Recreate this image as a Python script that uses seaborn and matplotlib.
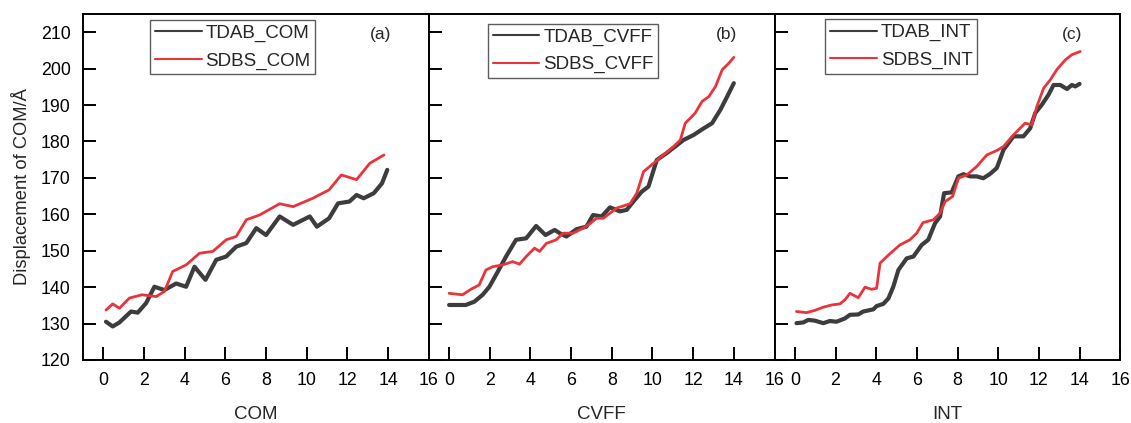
import numpy as np
import pandas as pd
import matplotlib
matplotlib.use("Agg")
import matplotlib.pyplot as plt
import seaborn as sns

# ---------------- data ----------------
t_tdab_com = [0.13, 0.46, 0.79, 1.36, 1.69, 2.1, 2.51, 3.0, 3.58, 4.07, 4.48, 5.02, 5.55, 6.04,
              6.53, 7.03, 7.52, 8.0, 8.67, 9.33, 10.15, 10.5, 11.1, 11.54, 12.1, 12.45, 12.8,
              13.3, 13.7, 13.96]
v_tdab_com = [130.5, 129.2, 130.3, 133.3, 133.0, 135.6, 140.1, 139.2, 141.0, 140.1, 145.6, 142.0,
              147.5, 148.4, 151.1, 152.1, 156.2, 154.3, 159.4, 157.1, 159.4, 156.6, 158.9, 163.0,
              163.5, 165.3, 164.4, 165.8, 168.5, 172.2]
t_sdbs_com = [0.13, 0.46, 0.79, 1.28, 1.9, 2.6, 3.0, 3.41, 4.07, 4.73, 5.38, 6.04, 6.53, 7.03,
              7.68, 8.67, 9.33, 10.3, 11.1, 11.7, 12.45, 13.1, 13.8]
v_sdbs_com = [133.7, 135.4, 134.2, 137.0, 137.9, 137.4, 138.8, 144.3, 146.1, 149.3, 149.8, 153.0,
              153.9, 158.5, 159.8, 162.9, 162.1, 164.4, 166.7, 170.8, 169.5, 174.0, 176.3]

t_tdab_cvff = [0.0, 0.82, 1.24, 1.65, 1.98, 2.31, 2.8, 3.29, 3.79, 4.28, 4.74, 5.19, 5.44, 5.77,
               6.26, 6.75, 7.08, 7.5, 7.91, 8.4, 8.73, 9.06, 9.47, 9.8, 10.21, 10.7, 11.53,
               12.03, 12.52, 12.93, 13.34, 13.67, 14.0]
v_tdab_cvff = [135.1, 135.1, 136.0, 137.9, 140.1, 143.4, 148.4, 153.0, 153.4, 156.8, 154.3, 155.7,
               154.8, 153.9, 155.9, 156.6, 159.8, 159.4, 161.9, 160.8, 161.2, 163.5, 166.2, 167.6,
               174.9, 176.8, 180.4, 181.8, 183.6, 185.0, 188.7, 192.3, 196.0]
t_sdbs_cvff = [0.0, 0.66, 1.07, 1.48, 1.81, 2.14, 2.64, 3.13, 3.46, 3.79, 4.2, 4.45, 4.78, 5.27,
               5.6, 6.1, 6.59, 6.92, 7.25, 7.58, 7.91, 8.24, 8.9, 9.23, 9.56, 10.05, 10.54,
               11.04, 11.37, 11.61, 11.86, 12.1, 12.44, 12.77, 13.1, 13.43, 13.76, 14.0]
v_sdbs_cvff = [138.3, 137.9, 139.4, 140.6, 144.7, 145.6, 146.1, 147.0, 146.3, 148.4, 150.7, 149.8,
               152.0, 153.0, 154.8, 154.8, 156.2, 157.4, 158.9, 158.9, 160.3, 161.7, 162.9, 165.8,
               171.7, 174.0, 176.3, 178.6, 180.4, 185.0, 186.4, 187.8, 191.0, 192.3, 195.1, 199.7,
               201.5, 203.1]

t_tdab_int = [0.08, 0.41, 0.66, 0.98, 1.4, 1.72, 2.05, 2.46, 2.71, 3.12, 3.36, 3.86, 4.02, 4.35,
              4.6, 4.84, 5.09, 5.5, 5.83, 6.24, 6.56, 6.89, 7.14, 7.34, 7.71, 8.04, 8.29, 8.62,
              8.94, 9.27, 9.6, 9.93, 10.26, 10.75, 11.24, 11.57, 11.82, 12.15, 12.47, 12.72,
              13.05, 13.38, 13.62, 13.79, 14.0]
v_tdab_int = [130.1, 130.3, 131.0, 130.8, 130.1, 130.7, 130.5, 131.4, 132.4, 132.5, 133.3, 133.9,
              134.8, 135.4, 136.9, 140.1, 144.7, 147.9, 148.4, 151.6, 153.0, 157.5, 159.4, 165.8,
              166.0, 170.4, 171.0, 170.4, 170.4, 169.9, 171.1, 172.7, 177.7, 181.4, 181.4, 183.6,
              187.8, 190.1, 192.8, 195.5, 195.5, 194.4, 195.5, 195.1, 195.8]
t_sdbs_int = [0.08, 0.57, 0.98, 1.4, 1.81, 2.22, 2.46, 2.71, 3.12, 3.45, 3.77, 4.02, 4.19, 4.6,
              5.17, 5.66, 5.99, 6.3, 6.81, 7.14, 7.39, 7.76, 8.04, 8.45, 8.94, 9.44, 9.93, 10.26,
              10.75, 11.32, 11.65, 11.9, 12.23, 12.56, 12.88, 13.3, 13.62, 14.03]
v_sdbs_int = [133.3, 133.0, 133.6, 134.5, 135.1, 135.4, 136.5, 138.3, 137.1, 140.0, 139.4, 139.7,
              146.6, 148.8, 151.6, 153.0, 154.8, 157.7, 158.5, 160.3, 163.5, 164.9, 169.9, 170.8,
              173.1, 176.3, 177.5, 178.6, 181.8, 185.0, 184.6, 189.6, 194.6, 196.9, 199.7, 202.4,
              203.8, 204.7]

panel_names = ["COM", "CVFF", "INT"]
panel_tags = ["(a)", "(b)", "(c)"]
x_ticks = [0, 2, 4, 6, 8, 10, 12, 14, 16]
y_ticks = [120, 130, 140, 150, 160, 170, 180, 190, 200, 210]
y_label = "Displacement of COM/Å"

panels = [
    (t_tdab_com, v_tdab_com, t_sdbs_com, v_sdbs_com),
    (t_tdab_cvff, v_tdab_cvff, t_sdbs_cvff, v_sdbs_cvff),
    (t_tdab_int, v_tdab_int, t_sdbs_int, v_sdbs_int),
]

# ---------------- styling ----------------
sns.set_theme(style="ticks")
plt.rcParams["font.family"] = ["Liberation Sans", "DejaVu Sans"]
plt.rcParams["axes.linewidth"] = 1.4

BLACK = "#3d3d3d"
RED = "#e8343a"

fig, axes = plt.subplots(1, 3, figsize=(11.31, 4.23), dpi=100, sharey=True)
fig.subplots_adjust(left=0.0734, right=0.9905, bottom=0.149, top=0.967, wspace=0)

legend_pos = [(0.194, 0.982), (0.171, 0.972), (0.147, 0.984)]

for i, ax in enumerate(axes):
    tb, vb, ts, vs = panels[i]
    name = panel_names[i]
    df_b = pd.DataFrame({"t": tb, "v": vb})
    df_s = pd.DataFrame({"t": ts, "v": vs})
    sns.lineplot(data=df_b, x="t", y="v", ax=ax, color=BLACK, linewidth=3.0,
                 label=f"TDAB_{name}", sort=False, estimator=None)
    sns.lineplot(data=df_s, x="t", y="v", ax=ax, color=RED, linewidth=2.0,
                 label=f"SDBS_{name}", sort=False, estimator=None)
    for ln in ax.get_lines():
        ln.set_solid_joinstyle("round")
        ln.set_solid_capstyle("round")

    ax.set_xlim(-1, 16)
    ax.set_ylim(120, 215)
    ax.set_xticks(x_ticks)
    ax.set_yticks(y_ticks)
    ax.tick_params(axis="both", direction="in", length=9.5, width=1.4,
                   labelsize=12.8, colors="black")
    ax.tick_params(axis="x", pad=9)
    ax.tick_params(axis="y", pad=9)
    ax.set_xlabel(name, fontsize=13.5, labelpad=12)
    if i == 0:
        ax.set_ylabel(y_label, fontsize=13.2, labelpad=7)
    else:
        ax.set_ylabel("")
    for sp in ax.spines.values():
        sp.set_visible(True)
        sp.set_color("black")
        sp.set_linewidth(1.4)

    ax.text(0.86, 0.94, panel_tags[i], transform=ax.transAxes, fontsize=12.5,
            ha="center", va="center")

    leg = ax.legend(loc="upper left", bbox_to_anchor=legend_pos[i], borderaxespad=0,
                    fontsize=13.5, frameon=True, fancybox=False, handlelength=2.5,
                    handletextpad=0.2, labelspacing=0.55, borderpad=0.25)
    leg.get_frame().set_edgecolor("#333333")
    leg.get_frame().set_linewidth(1.0)
    for h in leg.get_lines():
        h.set_linewidth(1.5)

fig.savefig("out.png", dpi=100)
